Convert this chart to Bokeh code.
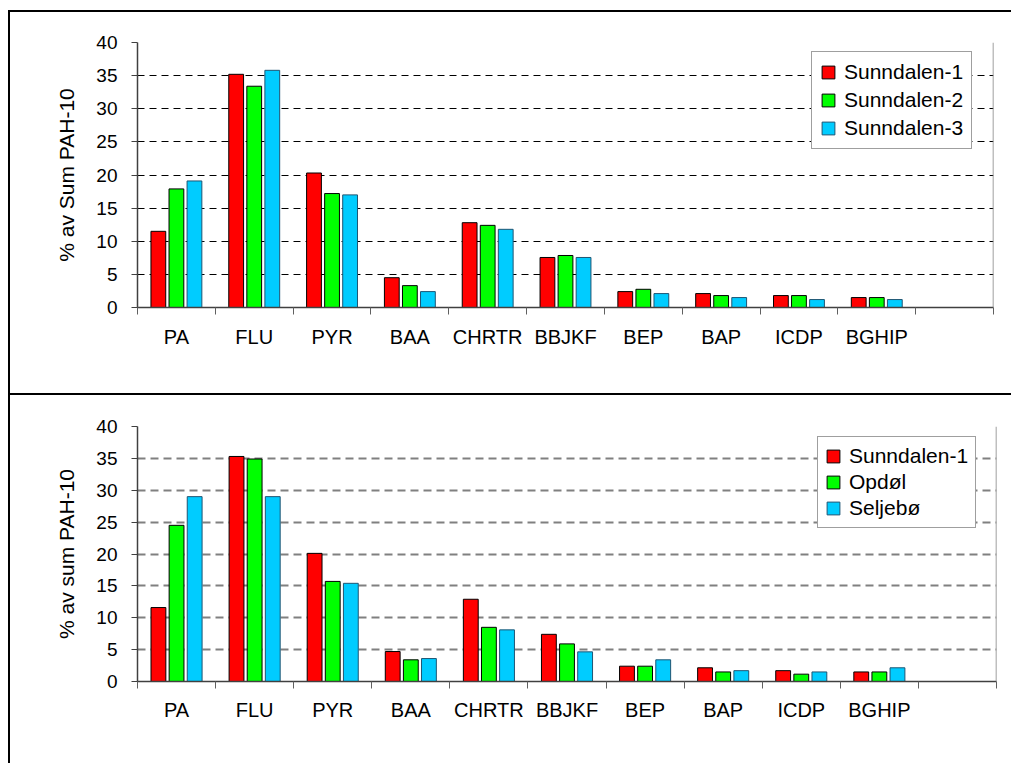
from bokeh.plotting import figure
from bokeh.models import Range1d, FixedTicker, Legend, LegendItem, Span, ColumnDataSource
from bokeh.layouts import column
from bokeh.transform import dodge
from bokeh.embed import file_html
from bokeh.resources import INLINE

categories = ["PA", "FLU", "PYR", "BAA", "CHRTR", "BBJKF", "BEP", "BAP", "ICDP", "BGHIP", ""]

top_names = ["Sunndalen-1", "Sunndalen-2", "Sunndalen-3"]
top_s1 = [11.5, 35.2, 20.3, 4.5, 12.8, 7.55, 2.4, 2.1, 1.8, 1.5]
top_s2 = [17.9, 33.4, 17.2, 3.3, 12.4, 7.85, 2.75, 1.8, 1.8, 1.5]
top_s3 = [19.1, 35.8, 17.0, 2.4, 11.8, 7.55, 2.1, 1.5, 1.2, 1.2]

bot_names = ["Sunndalen-1", "Opdøl", "Seljebø"]
bot_s1 = [11.6, 35.3, 20.1, 4.7, 12.9, 7.4, 2.4, 2.15, 1.7, 1.5]
bot_s2 = [24.5, 34.9, 15.7, 3.4, 8.5, 5.9, 2.4, 1.5, 1.15, 1.5]
bot_s3 = [29.0, 29.0, 15.4, 3.6, 8.1, 4.65, 3.4, 1.7, 1.5, 2.15]

y_ticks = [0, 5, 10, 15, 20, 25, 30, 35, 40]

colors = ["#FF0000", "#00FF00", "#00CCFF"]
outlines = ["#000000", "#000000", "#1f5573"]
FONT = "Liberation Sans"


def make_panel(names, series, ylabel, frame_w, frame_h, mb_left, mb_top, mb_right, mb_bottom,
               outer_margin, grid_color, grid_width, grid_dash,
               leg_loc, leg_padding, leg_spacing, x_standoff):
    n = len(series[0])
    xs = [i + 0.5 for i in range(n)]
    data = {"x": xs}
    for k, s in enumerate(series):
        data["s%d" % k] = s
    src = ColumnDataSource(data)

    p = figure(frame_width=frame_w, frame_height=frame_h,
               output_backend="svg", toolbar_location=None,
               x_range=Range1d(0, len(categories)), y_range=Range1d(0, 40),
               min_border_left=mb_left, min_border_top=mb_top,
               min_border_right=mb_right, min_border_bottom=mb_bottom,
               margin=outer_margin,
               styles={"border-top": "2px solid black", "border-left": "2px solid black"})
    p.outline_line_color = None
    p.background_fill_color = "white"
    p.border_fill_color = "white"

    offsets = [-0.232, 0.0, 0.232]
    renderers = []
    for k in range(3):
        r = p.vbar(x=dodge("x", offsets[k], range=p.x_range), top="s%d" % k, width=0.19,
                   source=src, fill_color=colors[k], line_color=outlines[k], line_width=1)
        renderers.append(r)

    # x axis: labels at category centres, ticks at category boundaries
    label_pos = [i + 0.5 for i in range(len(categories))]
    boundaries = list(range(len(categories) + 1))
    xa = p.xaxis[0]
    xa.ticker = FixedTicker(ticks=label_pos, minor_ticks=boundaries)
    xa.major_label_overrides = {lp: c for lp, c in zip(label_pos, categories)}
    xa.major_tick_in = 0
    xa.major_tick_out = 0
    xa.minor_tick_in = 0
    xa.minor_tick_out = 7
    xa.minor_tick_line_color = "#606060"
    xa.minor_tick_line_width = 1
    xa.axis_line_color = "#404040"
    xa.axis_line_width = 1.5
    xa.major_label_text_font = FONT
    xa.major_label_text_font_size = "20px"
    xa.major_label_text_color = "black"
    xa.major_label_standoff = x_standoff

    ya = p.yaxis[0]
    ya.ticker = FixedTicker(ticks=y_ticks)
    ya.minor_tick_line_color = None
    ya.major_tick_in = 0
    ya.major_tick_out = 6
    ya.major_tick_line_color = "#404040"
    ya.axis_line_color = "#404040"
    ya.axis_line_width = 1.5
    ya.major_label_text_font = FONT
    ya.major_label_text_font_size = "19px"
    ya.major_label_text_color = "black"
    ya.major_label_standoff = 14
    ya.axis_label = ylabel
    ya.axis_label_text_font = FONT
    ya.axis_label_text_font_size = "21px"
    ya.axis_label_text_font_style = "normal"
    ya.axis_label_text_color = "black"
    ya.axis_label_standoff = 15

    p.xgrid.grid_line_color = None
    p.ygrid.ticker = FixedTicker(ticks=y_ticks)
    p.ygrid.grid_line_color = grid_color
    p.ygrid.grid_line_width = grid_width
    p.ygrid.grid_line_dash = grid_dash

    p.add_layout(Span(location=len(categories), dimension="height",
                      line_color="#808080", line_width=1.5))

    items = [LegendItem(label=nm, renderers=[r]) for nm, r in zip(names, renderers)]
    leg = Legend(items=items, location=leg_loc, margin=0, padding=leg_padding,
                 spacing=leg_spacing, glyph_width=16, glyph_height=16,
                 label_standoff=8,
                 label_text_font=FONT, label_text_font_size="21px",
                 label_text_color="black",
                 border_line_color="#404040", border_line_width=1.2,
                 background_fill_color="white", background_fill_alpha=1)
    p.add_layout(leg, "center")
    return p


p1 = make_panel(top_names, [top_s1, top_s2, top_s3], "% av Sum PAH-10",
                854, 263, 127, 30, 20, 88, (10, 0, 0, 8),
                "#000000", 1, "7 5", (674, 158), 8, 4, 11)
p2 = make_panel(bot_names, [bot_s1, bot_s2, bot_s3], "% av sum PAH-10",
                857, 253, 118, 31, 26, 84, (0, 0, 0, 8),
                "#808080", 2, "8 5", (680, 153), 7, 2, 10)

layout = column(p1, p2, spacing=0)
open("out.html", "w").write(file_html(layout, INLINE))
